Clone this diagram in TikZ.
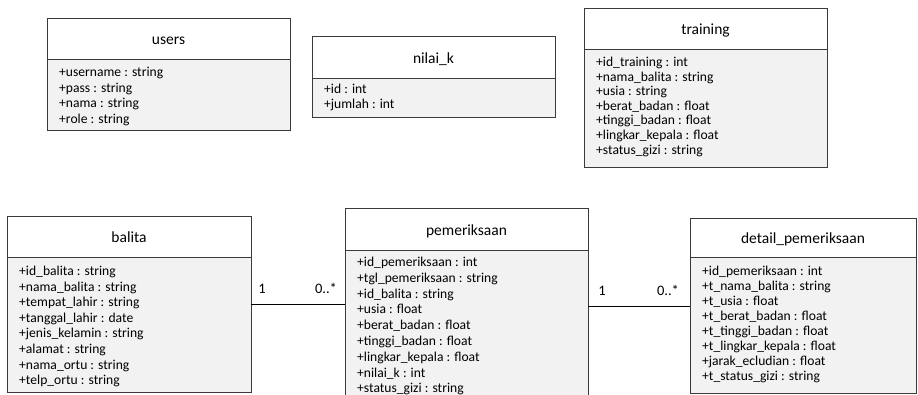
\documentclass[tikz,border=0pt]{standalone}
\usepackage{fontspec}
\setmainfont{Carlito}
\usetikzlibrary{calc}
\definecolor{bodygray}{HTML}{F2F2F2}
\definecolor{edgegray}{HTML}{3A3A3A}
\tikzset{
  boxline/.style={draw=edgegray, line width=1pt},
  headbox/.style={boxline, fill=white, inner sep=0pt, outer sep=0pt, anchor=north west},
  bodybox/.style={boxline, fill=bodygray, inner sep=0pt, outer sep=0pt, anchor=north west},
  rowtext/.style={anchor=base west, inner sep=0pt, font=\fontsize{13.6}{15}\selectfont},
  titletext/.style={anchor=base, inner sep=0pt, font=\fontsize{15.5}{17}\selectfont},
  multtext/.style={anchor=base, inner sep=0pt, font=\fontsize{14.5}{17}\selectfont},
  assoc/.style={draw=black, line width=1pt},
}
% #1 name, #2 left, #3 top, #4 right, #5 separator, #6 bottom, #7 title, #8 rows, #9 first row centre
\newcommand{\umlclass}[9]{%
  \pgfmathsetmacro{\bw}{#4-#2}%
  \pgfmathsetmacro{\hh}{#5-#3}%
  \pgfmathsetmacro{\bh}{#6-#5}%
  \node[headbox, minimum width=\bw pt, minimum height=\hh pt] (#1-head) at (#2,#3) {};
  \node[bodybox, minimum width=\bw pt, minimum height=\bh pt] (#1-body) at (#2,#5) {};
  \node[titletext] (#1-title) at ($(#1-head.center)+(0,6)$) {#7};
  \foreach \r [count=\i] in {#8} {
    \node[rowtext] (#1-r\i) at ({#2+12},{#9+(\i-1)*\rowstep+4.5}) {\r};
  }%
}
\begin{document}
\begin{tikzpicture}[x=1pt,y=-1pt]
\useasboundingbox (0,0) rectangle (918,394);
\clip (0,0) rectangle (918,394);

\def\rowstep{15.5}
\umlclass{users}{47}{18}{290}{59}{130}{users}
  {+username : string, +pass : string, +nama : string, +role : string}{72}

\def\rowstep{15}
\umlclass{nilaik}{312}{36}{555}{78}{117}{nilai\_k}
  {+id : int, +jumlah : int}{89}

\def\rowstep{14.6}
\umlclass{training}{584}{8}{827}{49}{167}{training}
  {+id\_training : int, +nama\_balita : string, +usia : string, +berat\_badan : float, +tinggi\_badan : float, +lingkar\_kepala : float, +status\_gizi : string}{62}

\def\rowstep{15.6}
\umlclass{balita}{7}{216}{251}{257}{392}{balita}
  {+id\_balita : string, +nama\_balita : string, +tempat\_lahir : string, +tanggal\_lahir : date, +jenis\_kelamin : string, +alamat : string, +nama\_ortu : string, +telp\_ortu : string}{271}

\def\rowstep{15.8}
\umlclass{pem}{345}{208}{588}{250}{410}{pemeriksaan}
  {+id\_pemeriksaan : int, +tgl\_pemeriksaan : string, +id\_balita : string, +usia : float, +berat\_badan : float, +tinggi\_badan : float, +lingkar\_kepala : float, +nilai\_k : int, +status\_gizi : string}{262}

\def\rowstep{15}
\umlclass{detail}{690}{218}{916}{257}{393}{detail\_pemeriksaan}
  {+id\_pemeriksaan : int, +t\_nama\_balita : string, +t\_usia : float, +t\_berat\_badan : float, +t\_tinggi\_badan : float, +t\_lingkar\_kepala : float, +jarak\_ecludian : float, +t\_status\_gizi : string}{271}

\coordinate (lvlA) at (0,304);
\coordinate (lvlB) at (0,306);
\draw[assoc] (balita-body.east |- lvlA) -- (pem-body.west |- lvlA);
\draw[assoc] (pem-body.east |- lvlB) -- (detail-body.west |- lvlB);

\node[multtext] (mA1) at (262,293) {1};
\node[multtext] (mA2) at (326,293) {0..*};
\node[multtext] (mB1) at (602,295) {1};
\node[multtext] (mB2) at (668,295) {0..*};
\end{tikzpicture}
\end{document}
